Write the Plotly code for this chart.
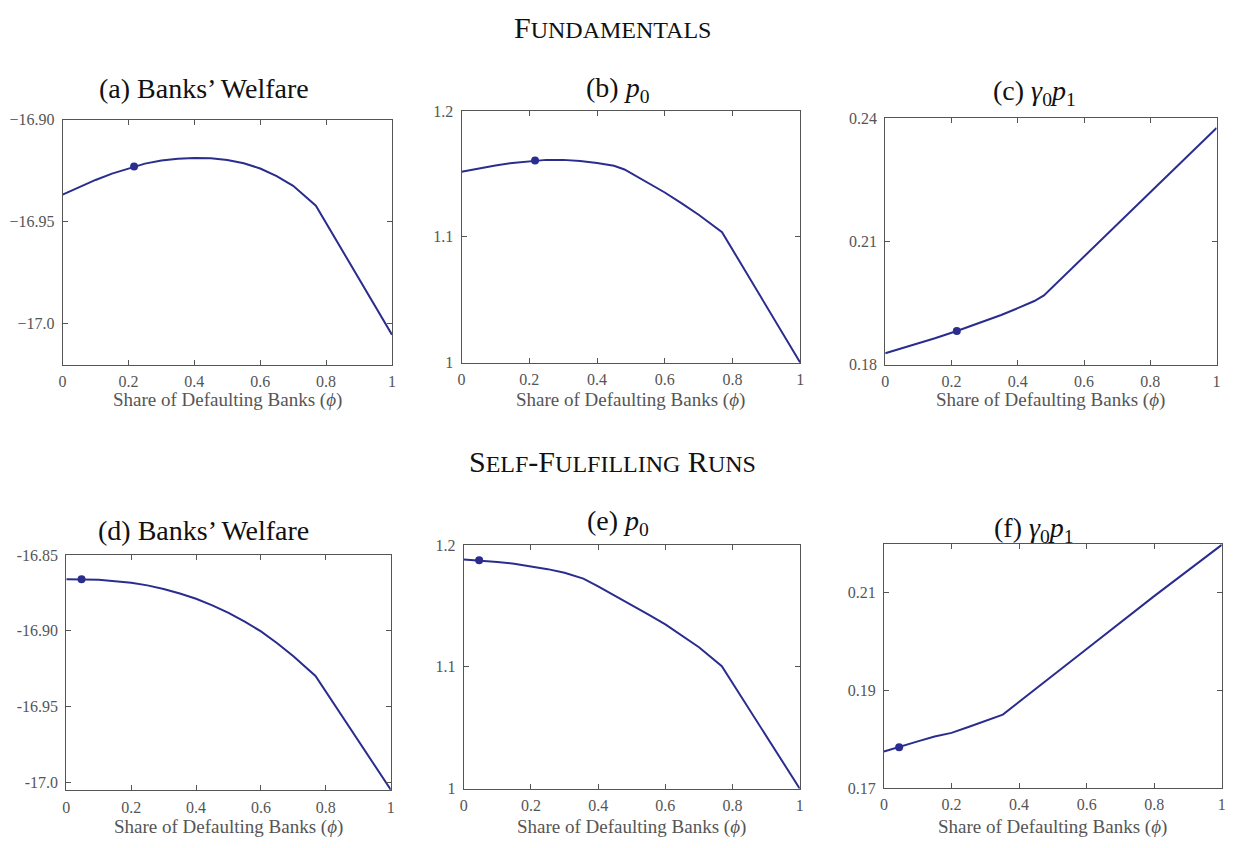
import plotly.graph_objects as go

# ---------------- data ----------------
# (a) Fundamentals: banks' welfare
phi_a = [0, 0.05, 0.1, 0.15, 0.217, 0.25, 0.3, 0.35, 0.4, 0.45, 0.5, 0.55, 0.6, 0.65, 0.7, 0.769, 1.0]
welfare_fund = [-16.9367, -16.9329, -16.9295, -16.9264, -16.9229, -16.9215, -16.9200, -16.9191,
                -16.9188, -16.9189, -16.9197, -16.9213, -16.9239, -16.9276, -16.9324, -16.9421, -17.0053]
# (b) Fundamentals: p0
phi_b = [0, 0.05, 0.1, 0.15, 0.217, 0.25, 0.3, 0.35, 0.4, 0.45, 0.481, 0.55, 0.6, 0.65, 0.7, 0.769, 1.0]
p0_fund = [1.1517, 1.1543, 1.1567, 1.1587, 1.1606, 1.1611, 1.1611, 1.1603, 1.1587, 1.1564, 1.1535,
           1.1431, 1.1352, 1.1266, 1.1175, 1.1037, 1.0]
# (c) Fundamentals: gamma0 p1
phi_c = [0, 0.05, 0.1, 0.15, 0.216, 0.25, 0.3, 0.35, 0.4, 0.45, 0.479, 0.6, 0.8, 1.0]
g0p1_fund = [0.18279, 0.18398, 0.18517, 0.18645, 0.1882, 0.18915, 0.19058, 0.1921, 0.19377, 0.19552,
             0.19687, 0.20642, 0.22202, 0.23769]
# (d) Self-fulfilling runs: banks' welfare
phi_d = [0, 0.047, 0.1, 0.15, 0.2, 0.25, 0.3, 0.35, 0.4, 0.45, 0.5, 0.55, 0.6, 0.65, 0.7, 0.768, 1.0]
welfare_run = [-16.8659, -16.8659, -16.8663, -16.8672, -16.8682, -16.8700, -16.8724, -16.8754, -16.8788,
               -16.8832, -16.8881, -16.8940, -16.9004, -16.9082, -16.9168, -16.9298, -17.0050]
# (e) Self-fulfilling runs: p0
phi_e = [0, 0.046, 0.1, 0.15, 0.2, 0.25, 0.3, 0.356, 0.4, 0.45, 0.5, 0.55, 0.6, 0.65, 0.7, 0.768, 1.0]
p0_run = [1.1882, 1.1874, 1.1861, 1.1847, 1.1826, 1.1802, 1.1772, 1.1724, 1.1660, 1.1584, 1.1507,
          1.1429, 1.1349, 1.1257, 1.1161, 1.1005, 1.0]
# (f) Self-fulfilling runs: gamma0 p1
phi_f = [0, 0.045, 0.1, 0.15, 0.2, 0.25, 0.3, 0.352, 0.6, 0.8, 1.0]
g0p1_run = [0.17749, 0.17836, 0.17957, 0.18057, 0.1813, 0.18251, 0.18371, 0.18505, 0.1985, 0.20933, 0.21983]

# highlighted equilibrium points
dot_phi = [0.217, 0.217, 0.216, 0.047, 0.046, 0.045]
dot_val = [-16.9229, 1.1606, 0.1882, -16.8659, 1.1874, 0.17836]

x_ticks = [0, 0.2, 0.4, 0.6, 0.8, 1]
x_tick_text = ["0", "0.2", "0.4", "0.6", "0.8", "1"]
y_ticks = [
    [-17.0, -16.95, -16.90],
    [1.0, 1.1, 1.2],
    [0.18, 0.21, 0.24],
    [-17.0, -16.95, -16.90, -16.85],
    [1.0, 1.1, 1.2],
    [0.17, 0.19, 0.21],
]
y_tick_text = [
    ["\u221217.0", "\u221216.95", "\u221216.90"],
    ["1", "1.1", "1.2"],
    ["0.18", "0.21", "0.24"],
    ["-17.0", "-16.95", "-16.90", "-16.85"],
    ["1", "1.1", "1.2"],
    ["0.17", "0.19", "0.21"],
]
y_ranges = [
    [-17.02, -16.90],
    [1.0, 1.2],
    [0.18, 0.24],
    [-17.0055, -16.85],
    [1.0, 1.2],
    [0.17, 0.22],
]
panel_titles = [
    "(a) Banks\u2019 Welfare",
    "(b) <i>p</i><sub>0</sub>",
    "(c) <i>\u03b3</i><sub>0</sub><i>p</i><sub>1</sub>",
    "(d) Banks\u2019 Welfare",
    "(e) <i>p</i><sub>0</sub>",
    "(f) <i>\u03b3</i><sub>0</sub><i>p</i><sub>1</sub>",
]
SC = "<span style='font-size:24px'>"
section_titles = [
    "F" + SC + "UNDAMENTALS</span>",
    "S" + SC + "ELF</span>-F" + SC + "ULFILLING</span> R" + SC + "UNS</span>",
]
x_title = "Share of Defaulting Banks (<i>\u03d5</i>)"

series_x = [phi_a, phi_b, phi_c, phi_d, phi_e, phi_f]
series_y = [welfare_fund, p0_fund, g0p1_fund, welfare_run, p0_run, g0p1_run]

# ---------------- layout (pixel boxes) ----------------
W, H = 1233, 848
boxes = [  # left, right, top, bottom in px
    (59, 390.5, 114, 364),
    (460.5, 801.5, 105, 362),
    (887, 1220.5, 112.7, 364),
    (62.7, 389.3, 558.3, 798.5),
    (462.7, 801, 548, 796.7),
    (885.7, 1225.7, 547, 796),
]
title_pos = [(201, 82), (618, 83), (1037, 86), (201, 533), (618, 525), (1037, 532)]
xtitle_y = [400, 400, 400, 836, 836, 836]
section_pos = [(612, 20), (612, 463)]

LINE = "#2b2d8e"
AX = "#555555"
TICKFONT = dict(family="Liberation Serif", size=16, color="#555555")

fig = go.Figure()
layout = dict(
    width=W, height=H, margin=dict(l=0, r=0, t=0, b=0),
    paper_bgcolor="white", plot_bgcolor="white", showlegend=False,
)
annotations = []
for i in range(6):
    n = "" if i == 0 else str(i + 1)
    l, r, t, b = boxes[i]
    layout["xaxis" + n] = dict(
        domain=[l / W, r / W], range=[0, 1], anchor="y" + n,
        tickvals=x_ticks, ticktext=x_tick_text,
        showline=True, linecolor=AX, linewidth=1, mirror="ticks",
        ticks="inside", ticklen=5, tickcolor=AX, tickwidth=1,
        showgrid=False, zeroline=False, tickfont=TICKFONT, ticklabelstandoff=2,
    )
    layout["yaxis" + n] = dict(
        domain=[1 - b / H, 1 - t / H], range=y_ranges[i], anchor="x" + n,
        tickvals=y_ticks[i], ticktext=y_tick_text[i],
        showline=True, linecolor=AX, linewidth=1, mirror="ticks",
        ticks="inside", ticklen=5, tickcolor=AX, tickwidth=1,
        showgrid=False, zeroline=False, tickfont=TICKFONT, ticklabelstandoff=4,
    )
    fig.add_trace(go.Scatter(
        x=series_x[i], y=series_y[i], mode="lines",
        line=dict(color=LINE, width=2), xaxis="x" + n, yaxis="y" + n,
        hoverinfo="skip",
    ))
    fig.add_trace(go.Scatter(
        x=[dot_phi[i]], y=[dot_val[i]], mode="markers",
        marker=dict(color=LINE, size=8), xaxis="x" + n, yaxis="y" + n,
        cliponaxis=False,
    ))
    tx, ty = title_pos[i]
    annotations.append(dict(
        x=tx / W, y=1 - ty / H, xref="paper", yref="paper", text=panel_titles[i],
        showarrow=False, xanchor="center", yanchor="middle",
        font=dict(family="Liberation Serif", size=28, color="#111111"),
    ))
    annotations.append(dict(
        x=(l + r) / 2 / W, y=1 - xtitle_y[i] / H, xref="paper", yref="paper", text=x_title,
        showarrow=False, xanchor="center", yanchor="middle",
        font=dict(family="Liberation Serif", size=19, color="#555555"),
    ))
for j in range(2):
    sx, sy = section_pos[j]
    annotations.append(dict(
        x=sx / W, y=1 - sy / H, xref="paper", yref="paper", text=section_titles[j],
        showarrow=False, xanchor="center", yanchor="middle",
        font=dict(family="Liberation Serif", size=30, color="#111111"),
    ))
layout["annotations"] = annotations
fig.update_layout(**layout)
fig.write_html(
    "out.html",
    config={"displayModeBar": False},
    post_script="document.body.style.margin='0';document.body.style.overflow='hidden';",
)
